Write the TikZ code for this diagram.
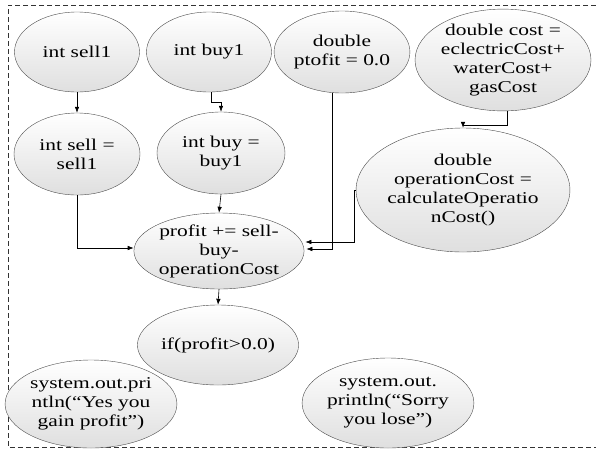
\documentclass[tikz,border=0pt]{standalone}
\usepackage{fontspec}
\setmainfont[FakeStretch=1.3]{Liberation Serif}
\usetikzlibrary{arrows.meta,shapes.geometric}

\begin{document}
\begin{tikzpicture}[x=1pt, y=-1pt, > = {Latex[length=6pt,width=4.5pt]},
    block/.style = {ellipse, draw=black!70, thin, top color=white, bottom color=gray!25, inner sep=0pt, align=center, font=\rmfamily\fontsize{16.5}{19}\selectfont},
    flow/.style = {semithick, ->}]

    \useasboundingbox (0,0) rectangle (596,453);
    % frame
    \draw[black!80, dash pattern=on 5pt off 3pt] (596,5) -- (8,5) -- (8,447) -- (596,447);

    % blocks
    \node[block, minimum width=125pt, minimum height=80pt] (sellone) at (77,52) {int sell1};
    \node[block, minimum width=125pt, minimum height=80pt] (buyone) at (209,52) {int buy1};
    \node[block, minimum width=130pt, minimum height=82pt] (ptofit) at (342,52) {double\\ptofit = 0.0};
    \node[block, minimum width=176pt, minimum height=96pt] (cost) at (503,60) {double cost =\\eclectricCost+\\waterCost+\\gasCost};
    \node[block, minimum width=126pt, minimum height=82pt] (sell) at (77,154) {int sell =\\sell1};
    \node[block, minimum width=128pt, minimum height=82pt] (buy) at (221,153) {int buy =\\buy1};
    \node[block, minimum width=190pt, minimum height=124pt] (opcost) at (463,190) {double\\operationCost =\\calculateOperatio\\nCost()};
    \node[block, minimum width=142pt, minimum height=76pt] (profit) at (219,251) {profit += sell-\\buy-\\operationCost};
    \node[block, minimum width=132pt, minimum height=80pt] (check) at (218,345) {if(profit>0.0)};
    \node[block, minimum width=152pt, minimum height=88pt] (gain) at (91,404) {system.out.pri\\ntln(“Yes you\\gain profit”)};
    \node[block, minimum width=152pt, minimum height=90pt] (lose) at (388,403) {system.out.\\println(“Sorry\\you lose”)};

    % connectors
    \draw[flow] (sellone.south) -- (sell.north);
    \draw[flow] ([xshift=2pt]buyone.south) -- ++(0,10) -| (buy.north);
    \draw[flow] (buy.south) -- (profit.north);
    \draw[flow] (sell.south) |- ([yshift=3pt]profit.west);
    \draw[flow] ([xshift=-10pt]ptofit.south) |- ([xshift=2pt,yshift=2pt]profit.east);
    \draw[flow] (opcost.west) -- ++(-2,0) |- ([xshift=1pt,yshift=9pt]profit.east);
    \draw[flow] ([xshift=4pt]cost.south) -- ++(0,14) -| (opcost.north);
    \draw[flow] (profit.south) -- (check.north);

\end{tikzpicture}
\end{document}
